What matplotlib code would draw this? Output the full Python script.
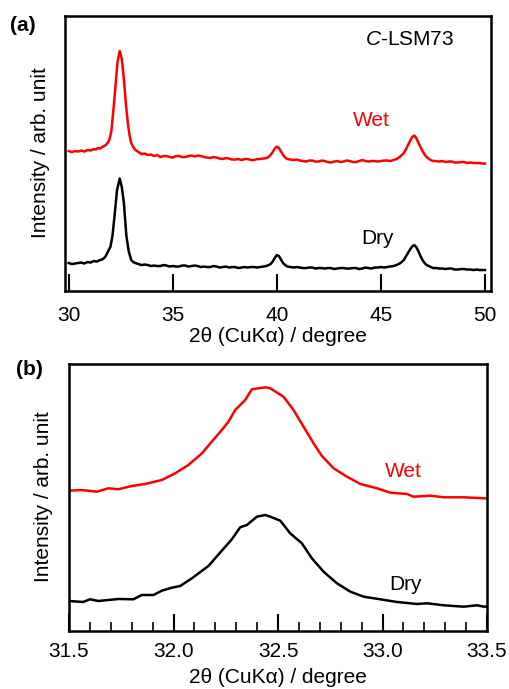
"""
plot.py

XRD patterns of C-LSM73 (Wet / Dry), full range (a) and main peak zoom (b).
"""

import matplotlib
matplotlib.use("Agg")
import matplotlib.pyplot as plt
from matplotlib.ticker import MultipleLocator, FormatStrFormatter

plt.rcParams["font.family"] = ["Liberation Sans", "DejaVu Sans"]
plt.rcParams["mathtext.fontset"] = "custom"
plt.rcParams["mathtext.rm"] = "Liberation Sans"
plt.rcParams["mathtext.it"] = "Liberation Sans:italic"

RED = "#ff0000"
BLACK = "#000000"

# ---- panel (a): 30-50 deg ----
A_WET_X = [
    30.0, 30.15, 30.3, 30.45, 30.6, 30.75, 30.9, 31.05, 31.2, 31.3, 31.4, 31.5,
    31.6, 31.7, 31.8, 31.88, 31.95, 32.05, 32.15, 32.25, 32.35, 32.45, 32.55,
    32.65, 32.75, 32.85, 32.93, 33.0, 33.1, 33.2, 33.35, 33.5, 33.65, 33.8, 33.95,
    34.1, 34.25, 34.4, 34.55, 34.7, 34.85, 35.0, 35.15, 35.3, 35.45, 35.6, 35.75,
    35.9, 36.05, 36.2, 36.35, 36.5, 36.65, 36.8, 36.95, 37.1, 37.25, 37.4, 37.55,
    37.7, 37.85, 38.0, 38.15, 38.3, 38.45, 38.6, 38.75, 38.9, 39.05, 39.2, 39.35,
    39.5, 39.6, 39.7, 39.8, 39.9, 40.0, 40.1, 40.2, 40.3, 40.4, 40.5, 40.65, 40.8,
    40.95, 41.1, 41.25, 41.4, 41.55, 41.7, 41.85, 42.0, 42.15, 42.3, 42.45, 42.6,
    42.75, 42.9, 43.05, 43.2, 43.35, 43.5, 43.65, 43.8, 43.95, 44.1, 44.25, 44.4,
    44.55, 44.7, 44.85, 45.0, 45.15, 45.3, 45.45, 45.6, 45.75, 45.9, 46.0, 46.1,
    46.2, 46.3, 46.4, 46.5, 46.6, 46.7, 46.8, 46.9, 47.0, 47.1, 47.2, 47.35, 47.5,
    47.65, 47.8, 47.95, 48.1, 48.25, 48.4, 48.55, 48.7, 48.85, 49.0, 49.15, 49.3,
    49.45, 49.6, 49.75, 49.9, 50.0,
]
A_WET_Y = [
    140, 139, 140, 139.5, 140.5, 139.5, 141, 140.5, 142, 141.5, 143, 142.5,
    144, 145, 146.5, 148.5, 151, 160, 182, 206, 230, 240, 232,
    212, 186, 166, 155, 148, 144, 141, 139, 137, 137.5, 136, 136.5,
    135, 136, 134, 135, 135, 134, 133.5, 135, 135, 134, 134, 135,
    135.5, 134.5, 135.5, 135, 134, 133.5, 133, 134, 133.5, 132.5, 132, 133,
    132.5, 131.5, 131.5, 132, 131, 132, 132, 131, 131, 132, 132, 132.5,
    133, 134, 136, 139, 142.5, 144.5, 143, 139.5, 136, 133.5, 132, 131.5, 131,
    131.5, 130.5, 130, 129.5, 130.5, 130.5, 129.5, 129.5, 130.5, 130, 129, 128.5,
    129.5, 130, 129, 129.5, 130.5, 130, 129, 129, 130, 131, 130, 129.5,
    130, 130, 129.5, 130, 130.5, 130.5, 130, 131, 132, 134, 136, 138,
    141.5, 146, 150, 154, 155.5, 153, 148.5, 144, 140, 136.5, 134, 131.5, 130,
    130, 129.5, 130, 129, 129.5, 129.5, 128.5, 128.5, 129, 129, 128, 128.5,
    128, 128, 128, 127.5, 127.5,
]

A_DRY_X = [
    30.0, 30.15, 30.3, 30.45, 30.6, 30.75, 30.9, 31.05, 31.2, 31.35, 31.5, 31.6,
    31.7, 31.78, 31.85, 31.92, 32.0, 32.1, 32.2, 32.32, 32.45, 32.55, 32.65, 32.77,
    32.88, 33.0, 33.1, 33.2, 33.35, 33.5, 33.65, 33.8, 33.95, 34.1, 34.25, 34.4,
    34.55, 34.7, 34.85, 35.0, 35.15, 35.3, 35.45, 35.6, 35.75, 35.9, 36.05, 36.2,
    36.35, 36.5, 36.65, 36.8, 36.95, 37.1, 37.25, 37.4, 37.55, 37.7, 37.85, 38.0,
    38.15, 38.3, 38.45, 38.6, 38.75, 38.9, 39.05, 39.2, 39.35, 39.5, 39.6, 39.7,
    39.8, 39.9, 40.0, 40.1, 40.2, 40.3, 40.4, 40.5, 40.65, 40.8, 40.95, 41.1,
    41.25, 41.4, 41.55, 41.7, 41.85, 42.0, 42.15, 42.3, 42.45, 42.6, 42.75, 42.9,
    43.05, 43.2, 43.35, 43.5, 43.65, 43.8, 43.95, 44.1, 44.25, 44.4, 44.55, 44.7,
    44.85, 45.0, 45.15, 45.3, 45.45, 45.6, 45.75, 45.9, 46.0, 46.1, 46.2, 46.3,
    46.4, 46.5, 46.6, 46.7, 46.8, 46.9, 47.0, 47.1, 47.2, 47.35, 47.5, 47.65,
    47.8, 47.95, 48.1, 48.25, 48.4, 48.55, 48.7, 48.85, 49.0, 49.15, 49.3, 49.45,
    49.6, 49.75, 49.9, 50.0,
]
A_DRY_Y = [
    28, 27, 27.5, 28, 28.5, 27.5, 29, 28.5, 30, 29.5, 31, 31.5,
    33, 35, 38, 41, 44, 55, 75, 101, 112.5, 104, 88, 55,
    40, 31, 29, 28, 27, 26, 26.5, 26, 25, 25.5, 25, 25,
    26, 25.5, 24.5, 25, 24.5, 24.5, 25.5, 25.5, 24.5, 25, 25.5, 25,
    24, 24.5, 24, 24, 25, 24.5, 23.5, 24, 24.5, 23.5, 24, 24,
    23, 23.5, 24, 23.5, 24, 24, 23.5, 24, 24.5, 25, 26, 27,
    29.5, 33, 36, 35, 31.5, 28, 26, 24.5, 24, 23.5, 24, 23.5,
    23, 23, 23.5, 23.5, 22.5, 23, 23, 22.5, 23, 23, 22, 22.5,
    23, 23, 22.5, 22.5, 23, 23, 22, 22.5, 23.5, 23, 22.5, 23.5,
    23.5, 24, 23.5, 24, 24.5, 25, 26, 27.5, 29, 31, 34.5, 38,
    41.5, 44.5, 46, 44, 40, 35, 31, 28, 26, 24.5, 23, 23,
    22.5, 22.5, 22, 22.5, 22.5, 21.5, 21.5, 22, 22, 21.5, 21.5, 21,
    21.5, 21, 21, 21,
]

# ---- panel (b): 31.5-33.5 deg ----
B_WET_X = [
    31.5, 31.56, 31.633, 31.688, 31.736, 31.8, 31.864, 31.944, 32.008, 32.071,
    32.136, 32.183, 32.231, 32.263, 32.295, 32.343, 32.375, 32.439, 32.463,
    32.526, 32.574, 32.622, 32.67, 32.71, 32.766, 32.83, 32.894, 32.974, 33.037,
    33.117, 33.149, 33.229, 33.293, 33.388, 33.484, 33.5,
]
B_WET_Y = [
    140.3, 141, 139.3, 142.7, 141.7, 145, 147, 151, 157.7, 166,
    177.7, 189.3, 201, 209.3, 221, 231, 241.7, 243.7, 242.7,
    234.3, 221, 204.3, 187.7, 175, 162.7, 154.3, 147, 142.7, 138.3,
    137, 134.3, 135.3, 133.7, 133.7, 132.7, 132.7,
]

B_DRY_X = [
    31.5, 31.568, 31.6, 31.64, 31.736, 31.808, 31.848, 31.904, 31.944, 31.992,
    32.032, 32.088, 32.167, 32.231, 32.279, 32.319, 32.351, 32.399, 32.439,
    32.463, 32.511, 32.558, 32.614, 32.662, 32.718, 32.782, 32.846, 32.91,
    32.989, 33.069, 33.165, 33.213, 33.293, 33.388, 33.453, 33.484, 33.5,
]
B_DRY_Y = [
    30, 29, 31.7, 30, 32, 31.7, 36, 36, 40.3, 43.3,
    45, 52.7, 65, 80.3, 91.7, 103.7, 106, 114.3, 116,
    114.3, 110.3, 97.7, 87.7, 72.7, 59.3, 47.7, 39.3, 34.3,
    31.7, 29, 27, 27.7, 25.7, 24.3, 25.7, 24.3, 24.5,
]

XLABEL = "2\u03b8 (CuK\u03b1) / degree"
YLABEL = "Intensity / arb. unit"
FS = 15


def style_axes(ax, xlim, ylim, major, minor, pad):
    """我统一画框、刻度和标签。"""

    ax.set_xlim(*xlim)
    ax.set_ylim(*ylim)
    ax.set_yticks([])
    ax.xaxis.set_major_locator(MultipleLocator(major))
    if minor:
        ax.xaxis.set_minor_locator(MultipleLocator(minor))
    ax.tick_params(axis="x", which="major", direction="in", length=12.5,
                   width=1.5, labelsize=FS, pad=pad)
    ax.tick_params(axis="x", which="minor", direction="in", length=6.5,
                   width=1.2)
    for sp in ax.spines.values():
        sp.set_linewidth(1.8)

    ax.set_xlabel(XLABEL, fontsize=FS, va="top")
    ax.set_ylabel(YLABEL, fontsize=FS)


if __name__ == "__main__":

    fig = plt.figure(figsize=(5.09, 6.89), dpi=100)

    # (a)
    ax_a = fig.add_axes([0.1277, 0.5776, 0.8369, 0.3991])
    ax_a.plot(A_WET_X, A_WET_Y, color=RED, lw=1.8)
    ax_a.plot(A_DRY_X, A_DRY_Y, color=BLACK, lw=1.8)
    style_axes(ax_a, (29.82, 50.29), (0, 275), 5, None, pad=11)
    ax_a.xaxis.set_major_formatter(FormatStrFormatter("%d"))
    ax_a.xaxis.set_label_coords(0.5, -0.13)
    ax_a.yaxis.set_label_coords(-0.035, 0.505)

    ax_a.text(44.24, 251.5, r"$\it{C}$-LSM73", fontsize=FS, va="center",
              ha="left")
    ax_a.text(43.66, 171, "Wet", color=RED, fontsize=FS, va="center", ha="left")
    ax_a.text(44.05, 52.5, "Dry", color=BLACK, fontsize=FS, va="center",
              ha="left")

    # (b)
    ax_b = fig.add_axes([0.1356, 0.0842, 0.8212, 0.3875])
    ax_b.plot(B_WET_X, B_WET_Y, color=RED, lw=1.8)
    ax_b.plot(B_DRY_X, B_DRY_Y, color=BLACK, lw=1.8)
    style_axes(ax_b, (31.5, 33.5), (0, 267), 0.5, 0.1, pad=8)
    ax_b.xaxis.set_major_formatter(FormatStrFormatter("%.1f"))
    ax_b.xaxis.set_label_coords(0.5, -0.14)
    ax_b.yaxis.set_label_coords(-0.038, 0.503)

    ax_b.text(33.013, 159, "Wet", color=RED, fontsize=FS, va="center",
              ha="left")
    ax_b.text(33.03, 46, "Dry", color=BLACK, fontsize=FS, va="center",
              ha="left")

    fig.text(0.0196, 0.9637, "(a)", fontsize=FS, fontweight="bold",
             va="center", ha="left")
    fig.text(0.0314, 0.463, "(b)", fontsize=FS, fontweight="bold",
             va="center", ha="left")

    fig.savefig("out.png", dpi=100)
    plt.close(fig)
